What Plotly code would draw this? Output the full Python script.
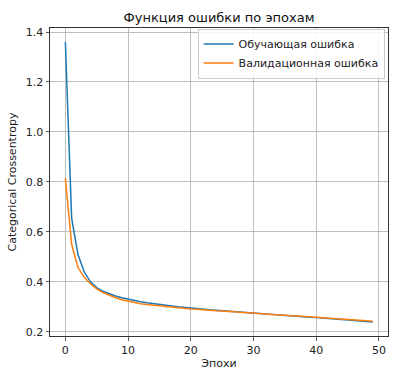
import plotly.graph_objects as go

epochs = list(range(50))
train_loss = [1.36, 0.655, 0.51, 0.44, 0.40, 0.377, 0.362, 0.351, 0.343, 0.336,
              0.330, 0.325, 0.320, 0.316, 0.312, 0.309, 0.306, 0.303, 0.300, 0.297,
              0.295, 0.292, 0.290, 0.288, 0.286, 0.284, 0.282, 0.280, 0.278, 0.276,
              0.274, 0.272, 0.270, 0.268, 0.267, 0.265, 0.263, 0.262, 0.260, 0.258,
              0.257, 0.255, 0.254, 0.252, 0.250, 0.248, 0.246, 0.244, 0.242, 0.239]
val_loss = [0.815, 0.55, 0.458, 0.418, 0.392, 0.372, 0.357, 0.345, 0.336, 0.328,
            0.322, 0.317, 0.312, 0.309, 0.306, 0.303, 0.300, 0.298, 0.295, 0.293,
            0.291, 0.290, 0.287, 0.286, 0.284, 0.283, 0.281, 0.279, 0.277, 0.276,
            0.274, 0.272, 0.271, 0.269, 0.267, 0.266, 0.264, 0.263, 0.261, 0.259,
            0.258, 0.257, 0.256, 0.254, 0.251, 0.250, 0.248, 0.246, 0.244, 0.243]
names = ["Обучающая ошибка", "Валидационная ошибка"]
title = "Функция ошибки по эпохам"
xlabel = "Эпохи"
ylabel = "Categorical Crossentropy"

font = "DejaVu Sans"
fig = go.Figure()
fig.add_trace(go.Scatter(x=epochs, y=train_loss, mode="lines", name=names[0],
                         line=dict(color="#1f77b4", width=1.5)))
fig.add_trace(go.Scatter(x=epochs, y=val_loss, mode="lines", name=names[1],
                         line=dict(color="#ff7f0e", width=1.5)))

axis_common = dict(showline=True, mirror=True, linecolor="#333333", linewidth=1,
                   ticks="outside", ticklen=3.5, tickwidth=0.8, tickcolor="#333333",
                   showgrid=True, gridcolor="#b0b0b0", gridwidth=0.8, zeroline=False,
                   automargin=False,
                   tickfont=dict(family=font, size=11, color="#222222"))

lo = min(min(train_loss), min(val_loss))
hi = max(max(train_loss), max(val_loss))
pad = (hi - lo) * 0.05

fig.update_layout(
    width=420, height=378,
    margin=dict(l=50, r=32, t=28, b=42),
    paper_bgcolor="white", plot_bgcolor="white",
    font=dict(family=font, color="#222222"),
    title=dict(text=title, x=0.5 * (50 + 388) / 420, xanchor="center", xref="container",
               y=1 - 17 / 378, yanchor="middle",
               font=dict(family=font, size=13, color="#111111")),
    xaxis=dict(range=[-2.45, 51.45], dtick=10, tick0=0,
               title=dict(text=xlabel, font=dict(family=font, size=11), standoff=3),
               **axis_common),
    yaxis=dict(range=[lo - pad, hi + pad], dtick=0.2, tick0=0, tickformat=".1f",
               title=dict(text=ylabel, font=dict(family=font, size=11), standoff=6),
               **axis_common),
    legend=dict(x=0.99, y=0.998, xanchor="right", yanchor="top",
                bgcolor="rgba(255,255,255,0.85)", bordercolor="#cccccc", borderwidth=1,
                font=dict(family=font, size=11, color="#222222"),
                tracegroupgap=0, itemwidth=30),
    showlegend=True,
    hovermode=False,
)

fig.write_html("out.html", config={"displayModeBar": False, "staticPlot": True},
               post_script="document.body.style.margin='0';")
